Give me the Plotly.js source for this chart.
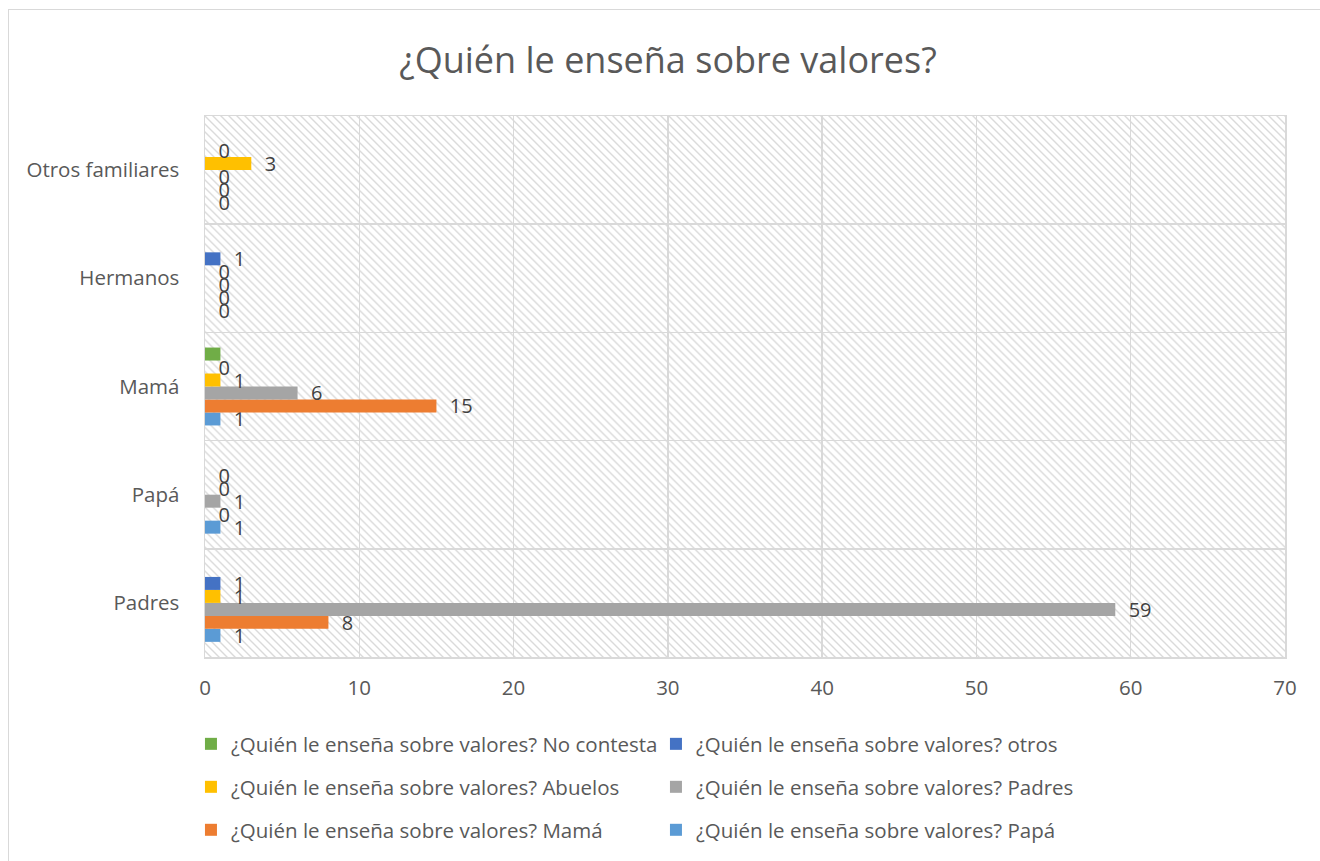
<!DOCTYPE html>
<html>
<head>
<meta charset="utf-8">
<script src="https://cdn.plot.ly/plotly-3.0.1.min.js"></script>
<style>
html,body{margin:0;padding:0;background:#fff;}
#frame{position:absolute;left:8px;top:9px;width:1330px;height:880px;border:1.5px solid #d9d9d9;box-sizing:border-box;}
#chart{position:absolute;left:0;top:0;width:1320px;height:861px;}
</style>
</head>
<body>
<div id="frame"></div>
<div id="chart"></div>
<script>
const categories = ["Padres", "Papá", "Mamá", "Hermanos", "Otros familiares"];
const seriesNames = [
  "¿Quién le enseña sobre valores? Papá",
  "¿Quién le enseña sobre valores? Mamá",
  "¿Quién le enseña sobre valores? Padres",
  "¿Quién le enseña sobre valores? Abuelos",
  "¿Quién le enseña sobre valores? otros",
  "¿Quién le enseña sobre valores? No contesta"
];
const valPapa = [1, 1, 1, 0, 0];
const valMama = [8, 0, 15, 0, 0];
const valPadres = [59, 1, 6, 0, 0];
const valAbuelos = [1, 0, 1, 0, 3];
const valOtros = [1, 0, 0, 1, 0];
const valNoContesta = [null, null, 1, null, null];
const colors = ["#5B9BD5", "#ED7D31", "#A5A5A5", "#FFC000", "#4472C4", "#70AD47"];
const showLabels = [true, true, true, true, true, false];
const legendOf = ["legend3", "legend3", "legend2", "legend2", "legend", "legend"];
const allValues = [valPapa, valMama, valPadres, valAbuelos, valOtros, valNoContesta];

const font = "'Open Sans', 'Liberation Sans', sans-serif";
const pad = "\u00a0\u00a0";

const traces = allValues.map((vals, i) => ({
  type: "bar",
  orientation: "h",
  name: seriesNames[i],
  legend: legendOf[i],
  y: categories,
  x: vals,
  marker: {color: colors[i]},
  text: showLabels[i] ? vals.map(v => v === null ? "" : pad + String(v)) : undefined,
  textposition: showLabels[i] ? "outside" : "none",
  textfont: {size: 20, color: "#404040", family: font},
  constraintext: "none",
  cliponaxis: false,
  hoverinfo: "x+name"
}));

const hatchSvg = '<svg xmlns="http://www.w3.org/2000/svg" width="1080" height="542">' +
  '<defs><pattern id="p" width="8" height="8" patternUnits="userSpaceOnUse">' +
  '<path d="M-2,-2 L10,10 M-2,6 L2,10 M6,-2 L10,2" stroke="#dadada" stroke-width="1.4"/>' +
  '</pattern></defs><rect width="1080" height="542" fill="#ffffff"/>' +
  '<rect width="1080" height="542" fill="url(#p)"/></svg>';

function legendAt(y) {
  return {
    orientation: "h",
    traceorder: "reversed",
    x: -0.013, xanchor: "left",
    y: y, yanchor: "middle",
    entrywidth: 420, entrywidthmode: "pixels",
    font: {size: 20.5, color: "#595959", family: font},
    itemwidth: 30,
    bgcolor: "rgba(0,0,0,0)"
  };
}

const layout = {
  width: 1320, height: 861,
  margin: {l: 205, r: 35, t: 116, b: 203},
  paper_bgcolor: "rgba(0,0,0,0)",
  plot_bgcolor: "rgba(0,0,0,0)",
  title: {
    text: "¿Quién le enseña sobre valores?",
    font: {size: 36, color: "#595959", family: font},
    x: 0.506, xanchor: "center", y: 0.93, yanchor: "middle"
  },
  barmode: "group",
  bargap: 0.28,
  bargroupgap: 0,
  xaxis: {
    range: [0, 70], dtick: 10, tick0: 0,
    showgrid: true, gridcolor: "#d9d9d9", gridwidth: 1.5,
    zeroline: false,
    showline: true, linecolor: "#d9d9d9", linewidth: 1.5, mirror: true,
    ticks: "", tickfont: {size: 20.5, color: "#595959", family: font},
    ticklabelstandoff: 12,
    fixedrange: true
  },
  yaxis: {
    type: "category",
    tickson: "boundaries",
    showgrid: true, gridcolor: "#d9d9d9", gridwidth: 1.5,
    showline: true, linecolor: "#d9d9d9", linewidth: 1.5, mirror: true,
    ticks: "", ticklen: 0,
    tickfont: {size: 20.5, color: "#595959", family: font},
    ticklabelstandoff: 20,
    fixedrange: true
  },
  images: [{
    source: "data:image/svg+xml;charset=utf-8," + encodeURIComponent(hatchSvg),
    xref: "paper", yref: "paper", x: 0, y: 1, sizex: 1, sizey: 1,
    xanchor: "left", yanchor: "top", sizing: "stretch", layer: "below"
  }],
  legend: legendAt(-0.1587),
  legend2: legendAt(-0.238),
  legend3: legendAt(-0.3173),
  showlegend: true
};

Plotly.newPlot("chart", traces, layout, {displayModeBar: false, staticPlot: true});
</script>
</body>
</html>
